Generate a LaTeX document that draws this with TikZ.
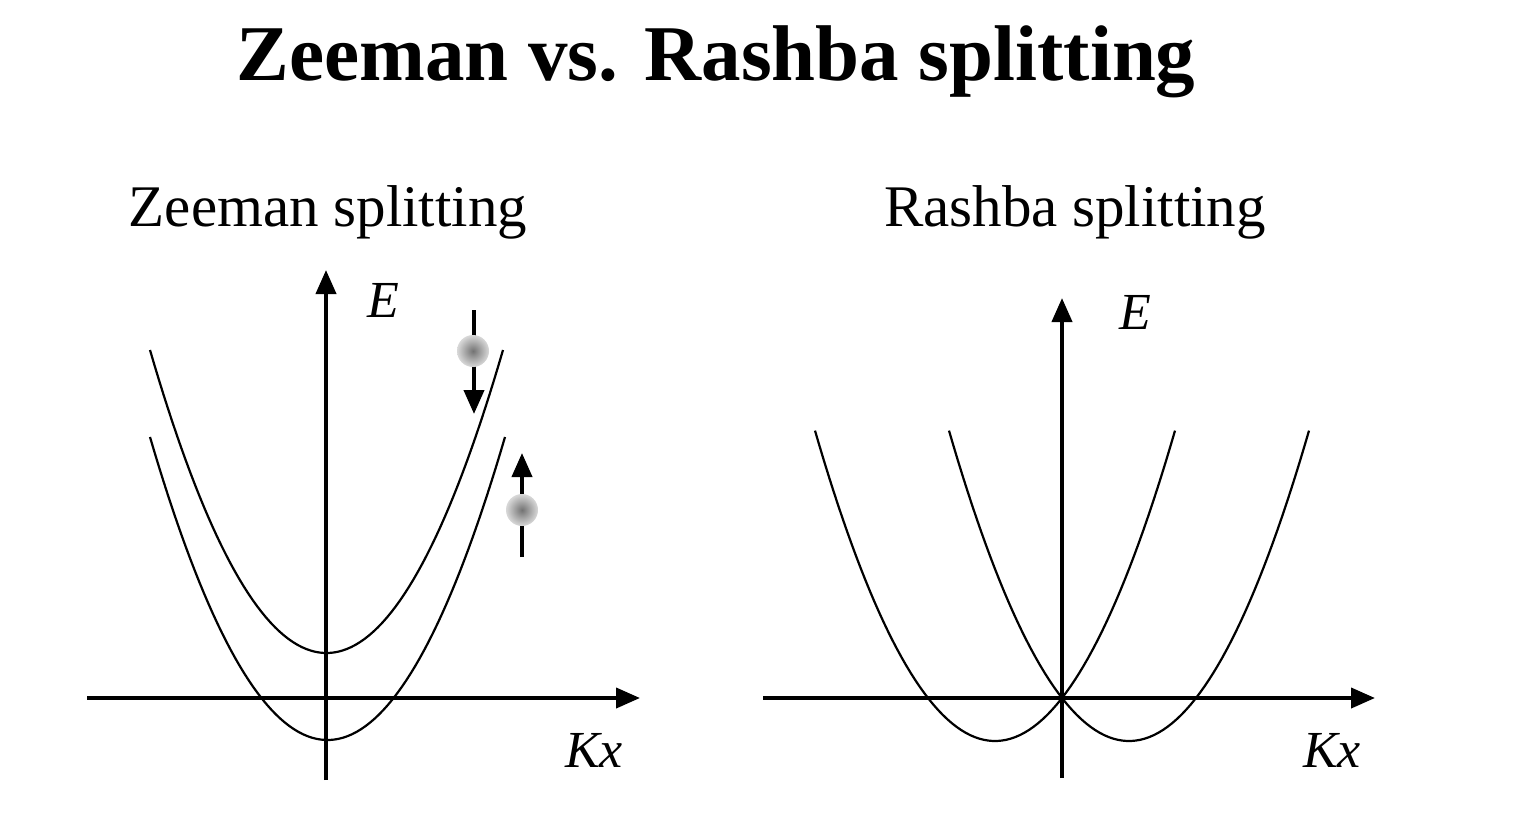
\documentclass[tikz,border=0pt]{standalone}
\usepackage{fontspec}
\setmainfont{Liberation Serif}
\usetikzlibrary{arrows.meta}
\begin{document}
\begin{tikzpicture}[x=0.5pt,y=-0.5pt,
  ax/.style={line width=2pt,-{Triangle[length=12pt,width=10pt]}},
  band/.style={line width=1.1pt},
  ball/.style={circle,minimum size=16pt,inner sep=0pt,inner color=gray!90!black,outer color=gray!30}]
\useasboundingbox (0,0) rectangle (1526,815);
\node[font=\fontsize{39.5}{42}\selectfont\bfseries] (title) at (716,62) {Zeeman vs. Rashba splitting};
\node[font=\fontsize{29.5}{32}\selectfont] (zt) at (328,212) {Zeeman splitting};
\node[font=\fontsize{29.5}{32}\selectfont] (rt) at (1075,212) {Rashba splitting};
% left
\coordinate (ly0) at (326,780); \coordinate (ly1) at (326,270);
\coordinate (lx0) at (87,698); \coordinate (lx1) at (640,698);
\draw[ax] (ly0) -- (ly1);
\draw[ax] (lx0) -- (lx1);
\draw[band,domain=150:503,samples=80] plot (\x,{653-303*((\x-326.5)/176.5)^2});
\draw[band,domain=150:505,samples=80] plot (\x,{740-303*((\x-327.5)/177.5)^2});
\node[font=\fontsize{26}{28}\selectfont\itshape] (le) at (383,300) {E};
\node[font=\fontsize{26}{28}\selectfont\itshape] (lk) at (594,750) {Kx};
\coordinate (d0) at (474,310); \coordinate (d1) at (474,414);
\draw[ax] (d0) -- (d1);
\node[ball] (b1) at (473,351) {};
\coordinate (u0) at (522,557); \coordinate (u1) at (522,453);
\draw[ax] (u0) -- (u1);
\node[ball] (b2) at (522,510) {};
% right
\coordinate (ry0) at (1062,778); \coordinate (ry1) at (1062,298);
\coordinate (rx0) at (763,698); \coordinate (rx1) at (1375,698);
\draw[ax] (ry0) -- (ry1);
\draw[ax] (rx0) -- (rx1);
\draw[band,domain=815:1175,samples=80] plot (\x,{741-95.8*((\x-995)/100)^2});
\draw[band,domain=949:1309,samples=80] plot (\x,{741-95.8*((\x-1129)/100)^2});
\node[font=\fontsize{26}{28}\selectfont\itshape] (re) at (1135,312) {E};
\node[font=\fontsize{26}{28}\selectfont\itshape] (rk) at (1332,750) {Kx};
\end{tikzpicture}
\end{document}
